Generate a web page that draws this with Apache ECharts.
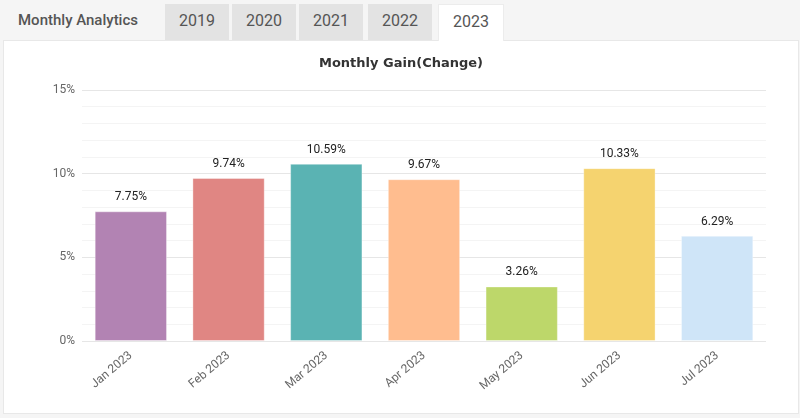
<!DOCTYPE html>
<html>
<head>
<meta charset="utf-8">
<script src="https://cdn.jsdelivr.net/npm/echarts@6/dist/echarts.min.js"></script>
<style>
  html, body { margin: 0; padding: 0; background: #f5f5f5; font-family: Roboto, "Open Sans", sans-serif; }
  #wrap { position: relative; width: 800px; height: 418px; overflow: hidden; }
  .head { position: absolute; left: 18px; top: 11px; font-size: 15px; font-weight: 500; color: #555; }
  .tab { position: absolute; top: 4px; height: 36px; line-height: 34px; width: 64px; text-align: center;
         background: #e3e3e3; color: #555; font-size: 16px; }
  .tab.active { background: #fff; border: 1px solid #ececec; border-bottom: none; height: 36px; top: 4px; }
  #panel { position: absolute; left: 3px; top: 40px; width: 794px; height: 372px; background: #fff;
           border: 1px solid #e8e8e8; }
  #main { width: 794px; height: 372px; }
</style>
</head>
<body>
<div id="wrap">
  <div class="head">Monthly Analytics</div>
  <div class="tab" style="left:165px">2019</div>
  <div class="tab" style="left:232px">2020</div>
  <div class="tab" style="left:299px">2021</div>
  <div class="tab" style="left:368px">2022</div>
  <div id="panel"><div id="main"></div></div>
  <div class="tab active" style="left:438px">2023</div>
</div>
<script>
const months = ['Jan 2023', 'Feb 2023', 'Mar 2023', 'Apr 2023', 'May 2023', 'Jun 2023', 'Jul 2023'];
const gains = [7.75, 9.74, 10.59, 9.67, 3.26, 10.33, 6.29];
const barColors = ['#b283b3', '#e08683', '#5ab3b3', '#ffbd8f', '#bdd76a', '#f5d36f', '#cfe5f8'];

const chart = echarts.init(document.getElementById('main'));

chart.setOption({
    animation: false,
    title: {
        text: 'Monthly Gain(Change)',
        left: 'center',
        top: 11,
        textStyle: { fontSize: 13, fontWeight: 'bold', color: '#333', fontFamily: 'DejaVu Sans' }
    },
    grid: { left: 78, right: 32, top: 49, bottom: 72 },
    xAxis: {
        type: 'category',
        data: months,
        axisLine: { show: false },
        axisTick: { show: false },
        axisLabel: {
            rotate: 40,
            margin: 13,
            fontSize: 12,
            color: '#666',
            fontFamily: 'Roboto'
        }
    },
    yAxis: {
        type: 'value',
        min: 0,
        max: 15,
        interval: 5,
        axisLine: { show: false },
        axisTick: { show: false },
        axisLabel: {
            formatter: '{value}%',
            fontSize: 12,
            color: '#666',
            margin: 7,
            fontFamily: 'Roboto'
        },
        splitLine: { lineStyle: { color: '#e6e6e6', width: 1 } },
        minorTick: { show: false, splitNumber: 5 },
        minorSplitLine: { show: true, lineStyle: { color: '#f4f4f4', width: 1 } }
    },
    series: [{
        type: 'bar',
        barWidth: '74%',
        data: gains.map((v, i) => ({
            value: v,
            itemStyle: { color: barColors[i], borderColor: 'rgba(255,255,255,0.35)', borderWidth: 1 }
        })),
        label: {
            show: true,
            position: 'top',
            distance: 8,
            fontSize: 12,
            color: '#222',
            fontFamily: 'Roboto',
            formatter: p => p.value.toFixed(2) + '%'
        }
    }]
});
</script>
</body>
</html>
